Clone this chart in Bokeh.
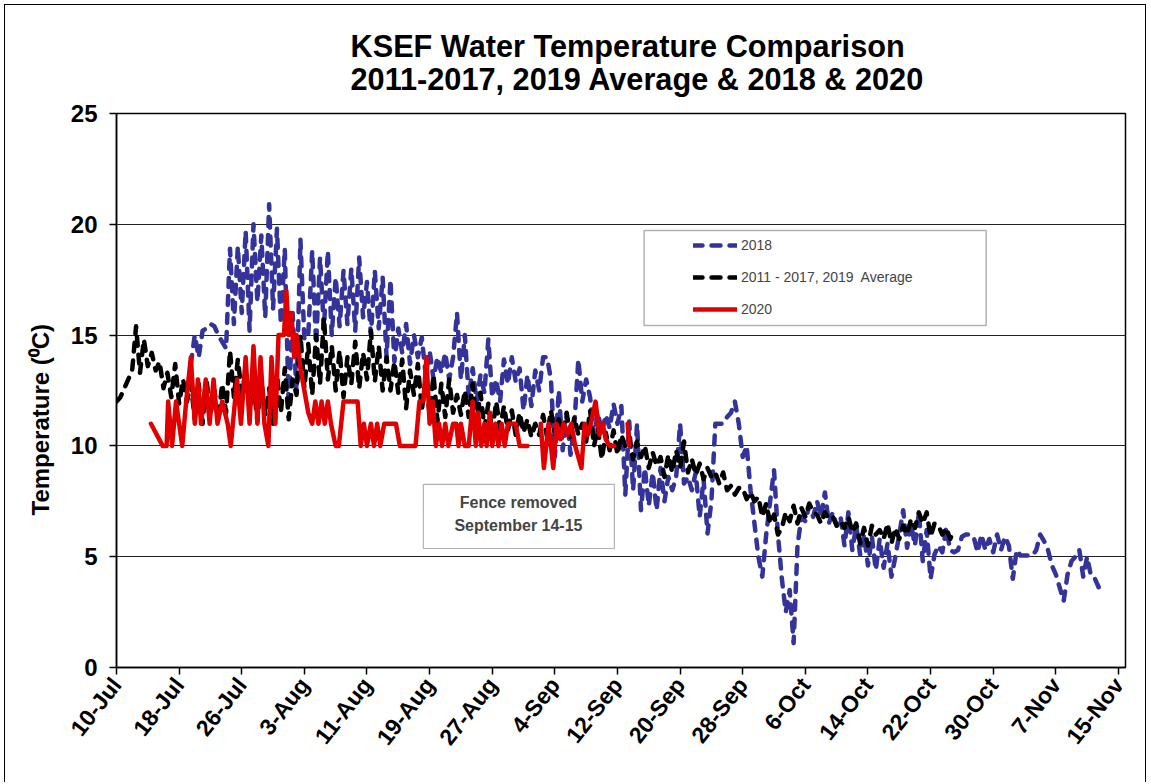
import math
import numpy as np
from bokeh.plotting import figure
from bokeh.models import (Range1d, FixedTicker, Legend, LegendItem,
                          BoxAnnotation, Label, Title)
from bokeh.embed import file_html
from bokeh.resources import INLINE

NAN = float("nan")

TITLE_1 = "KSEF Water Temperature Comparison"
TITLE_2 = "2011-2017, 2019 Average & 2018 & 2020"
Y_LABEL = "Temperature (\u2070C)"

# x axis: days since 10-Jul
tick_days = [0, 8, 16, 24, 32, 40, 48, 56, 64, 72, 80, 88, 96, 104, 112, 120, 128]
tick_labels = ["10-Jul", "18-Jul", "26-Jul", "3-Aug", "11-Aug", "19-Aug", "27-Aug",
               "4-Sep", "12-Sep", "20-Sep", "28-Sep", "6-Oct", "14-Oct", "22-Oct",
               "30-Oct", "7-Nov", "15-Nov"]
y_ticks = [0, 5, 10, 15, 20, 25]

# 2011-2017, 2019 average: readings every half day starting 10-Jul
avg_first_day = 0.0
avg_step = 0.5
temp_avg = [
    12.0, 12.2, 12.6, 13.0, 13.4, 15.4, 13.3, 14.8, 13.6, 14.2,
    13.4, 13.8, 12.6, 13.3, 12.2, 13.7, 11.9, 13.0, 12.0, 12.8,
    11.2, 12.8, 11.0, 13.0, 11.4, 12.5, 11.2, 12.8, 11.5, 14.3,
    12.2, 13.9, 12.4, 13.3, 11.6, 12.8, 11.1, 13.0, 11.4, 12.6,
    11.0, 13.2, 11.5, 13.5, 11.2, 13.0, 12.3, 15.0, 12.6, 14.6,
    12.3, 15.0, 12.8, 15.8, 13.0, 14.5, 12.5, 14.3, 12.2, 14.0,
    12.8, 14.7, 12.6, 14.2, 13.0, 15.2, 12.9, 14.5, 12.5, 14.0,
    12.5, 13.8, 12.4, 13.9, 11.7, 13.4, 12.3, 13.7, 11.6, 13.0,
    11.4, 13.2, 11.1, 12.8, 11.3, 13.0, 11.5, 12.3, 11.4, 12.5,
    11.3, 12.8, 11.0, 12.4, 10.8, 11.9, 10.6, 12.0, 10.8, 11.8,
    10.7, 11.6, 10.5, 11.5, 10.6, 11.2, 10.4, 11.0, 10.5, 11.4,
    10.4, 11.6, 10.5, 11.2, 10.6, 11.5, 10.4, 11.3, 10.5, 11.0,
    10.2, 11.6, 10.0, 10.8, 9.4, 10.6, 9.8, 10.7, 9.6, 10.5,
    10.0, 10.4, 9.4, 10.2, 9.5, 10.0, 9.0, 9.7, 9.1, 9.5,
    8.6, 9.6, 8.8, 9.8, 9.0, 10.2, 8.8, 9.4, 8.7, 9.2,
    8.5, 9.0, 8.6, 8.8, 8.3, 8.8, 8.0, 8.2, 7.8, 8.1,
    8.1, 7.6, 7.9, 7.5, 7.7, 6.8, 7.4, 6.5, 6.9, 6.0,
    6.3, 7.0, 6.6, 7.3, 6.5, 7.2, 6.8, 7.4, 7.0, 6.9,
    6.5, 7.0, 6.7, 6.8, 6.4, 6.6, 6.3, 6.8, 6.1, 6.5,
    5.6, 6.3, 5.5, 6.4, 6.0, 6.2, 5.8, 6.5, 5.6, 6.3,
    5.8, 6.4, 6.0, 6.7, 6.3, 7.0, 6.5, 7.0, 5.9, 6.5,
    6.4, 6.0, 6.3, 5.8, 6.2,
]

# 2018: readings every half day starting 19.5-Jul
y2018_first_day = 9.5
y2018_step = 0.5
temp_2018 = [
    13.7, 15.0, 14.0, 15.2, 15.3, 15.5, 15.4, 15.0, 14.7, 14.4,
    18.9, 15.5, 19.0, 16.0, 19.7, 15.2, 20.0, 16.5, 19.5, 15.8,
    20.9, 16.2, 19.8, 15.5, 18.9, 11.7, 16.0, 12.4, 19.3, 14.8,
    15.0, 18.8, 14.6, 18.5, 15.3, 18.8, 15.0, 17.6, 15.4, 17.9,
    15.5, 18.0, 15.2, 18.5, 15.8, 17.4, 15.0, 17.9, 15.3, 17.6,
    14.0, 17.5, 13.8, 15.3, 14.2, 15.5, 13.7, 15.0, 14.0, 14.9,
    13.2, 14.3, 13.0, 14.0, 13.3, 14.2, 13.0, 14.0, 16.0, 13.0,
    15.0, 12.2, 13.5, 12.0, 13.2, 12.4, 14.8, 12.2, 13.0, 12.0,
    13.9, 12.8, 14.0, 12.9, 13.5, 11.6, 13.2, 11.8, 13.4, 12.5,
    14.0, 14.0, 13.0, 9.5, 12.5, 9.8, 11.4, 9.6, 11.0, 13.9,
    12.0, 13.0, 12.2, 10.5, 11.5, 10.6, 11.4, 10.8, 11.9, 11.0,
    11.8, 7.8, 11.1, 8.0, 11.0, 7.1, 9.0, 7.3, 8.8, 7.1,
    9.0, 7.5, 8.6, 8.0, 8.6, 11.0, 8.3, 8.6, 8.0, 8.8,
    6.8, 8.5, 6.05, 7.5, 11.0, 11.0, 11.0, 11.3, 11.5, 12.0,
    11.0, 9.5, 10.0, 8.0, 6.5, 5.0, 4.1, 6.0, 7.5, 8.9,
    6.0, 4.0, 2.5, 3.5, 1.1, 5.5, 6.8, 6.6, 7.3, 6.8,
    7.5, 6.8, 7.9, 6.5, 7.0, 6.4, 6.8, 5.5, 7.0, 5.3,
    6.4, 5.1, 6.0, 4.6, 5.9, 4.4, 5.8, 4.5, 5.6, 4.1,
    5.0, 6.0, 7.1, 5.4, 6.5, 5.5, 7.0, 4.8, 6.2, 4.0,
    5.1, 5.5, 5.2, 6.3, 5.3, 5.2, 5.3, 5.9, 6.0, 6.0,
    5.9, 5.2, 6.0, 5.3, 5.8, 5.2, 6.0, 5.3, 5.9, 5.5,
    4.0, 5.3, 5.05, 5.05, 5.05, 5.05, 5.3, 6.0, 5.7, 5.3,
    4.6, 4.2, 3.6, 3.0, 4.2, 4.8, 5.0, 5.3, 4.1, 5.0,
    4.1, 4.0, 3.6, 3.3,
]

# 2020: reading days (since 10-Jul) and temperatures (NaN = no data)
days_2020 = [
    4.4, 5.9, 6.4, 6.6, 7.1, 7.6, 8.0, 8.4, 8.9, 9.5,
    10.0, 10.4, 10.8, 11.4, 11.9, 12.4, 12.9, 13.5, 14.2, 14.6,
    15.4, 15.9, 16.5, 17.0, 17.5, 18.0, 18.4, 18.9, 19.4, 19.8,
    20.3, 20.7, 21.4, 21.7, 22.0, 22.3, 22.7, 23.0, 23.5, 24.0,
    24.5, 25.0, 25.4, 25.8, 26.2, 26.6, 27.0, 27.4, 28.0, 28.4,
    29.0, 30.8, 31.2, 31.6, 32.0, 32.5, 32.9, 33.3, 33.7, 34.2,
    34.6, 35.7, 36.2, 38.2, 38.7, 39.2, 39.6, 40.0, 40.4, 40.8,
    41.2, 41.6, 42.0, 42.4, 43.0, 43.4, 43.7, 44.0, 44.5, 45.0,
    45.5, 45.9, 46.2, 46.6, 47.0, 47.3, 47.7, 48.0, 48.4, 48.8,
    49.2, 49.6, 50.0, 51.0, 51.5, 52.5, 53.3, 54.2, 54.6, 55.2,
    55.8, 56.2, 56.7, 57.1, 57.6, 58.1, 58.6, 59.4, 59.8, 60.2,
    60.6, 61.2, 61.7, 62.1, 62.5, 63.0, 63.6, 64.5, 65.3, 65.5,
]
temp_2020 = [
    11, 10, 10, 12, 10, 12, 11, 10, 12, 14,
    11, 13, 11, 13, 11, 13, 11, 12, 11, 10,
    13, 11, 14, 11, 14.5, 11, 14, 11, 10, 14,
    11, 15, 15, 17, 15, 16, 14, 15, 13.5, 12.5,
    11.5, 11, 12, 11, 12, 11, 12, 11, 10, 10,
    12, 12, 10, 11, 10, 11, 10, 11, 10, 11,
    11, 11, 10, 10, 12, 12, 14, 11, 12, 10,
    11, 10, 11, 10, 11, 11, 10, 11, 10, 10,
    12, 10, 11.5, 10, 11, 10, 11.5, 10, 11, 10,
    11, 10, 11, 11, 10, 10, NAN, 11, 9, 11,
    9, 11, 10.3, 11, 10.5, 11, 10, 9, 11, 10.5,
    11, 12, 10.5, 11, 10.3, 10, 10, NAN, 11, 10,
]

LEGEND_LABELS = ["2018", "2011 - 2017, 2019  Average", "2020"]
NOTE_LINES = ["Fence removed", "September 14-15"]

FONT = "Liberation Sans"
BLUE = "#333399"
RED = "#e00000"

days_avg = avg_first_day + avg_step * np.arange(len(temp_avg))
days_2018 = y2018_first_day + y2018_step * np.arange(len(temp_2018))

p = figure(width=1142, height=778, output_backend="svg", toolbar_location=None,
           x_range=Range1d(0, 128.9), y_range=Range1d(0, 25),
           min_border_left=111, min_border_right=22, min_border_top=108,
           min_border_bottom=116, title=TITLE_1 + "\n" + TITLE_2)
p.styles = {"margin-left": "4px", "margin-top": "4px",
            "border-left": "1px solid black", "border-top": "1px solid black",
            "border-right": "1px solid black"}
p.background_fill_color = "white"
p.border_fill_color = "white"
p.outline_line_color = "black"
p.outline_line_width = 1.5

p.title.text_font = FONT
p.title.text_font_size = "30.7px"
p.title.text_font_style = "bold"
p.title.text_color = "black"
p.title.align = "left"
p.title.offset = 234
p.title.standoff = 33
p.title.text_line_height = 0.93

# axes
p.xaxis.ticker = FixedTicker(ticks=tick_days)
p.xaxis.major_label_overrides = {d: l for d, l in zip(tick_days, tick_labels)}
p.xaxis.major_label_orientation = math.radians(52)
p.yaxis.ticker = FixedTicker(ticks=y_ticks)
for ax in (p.xaxis[0], p.yaxis[0]):
    ax.axis_line_color = "black"
    ax.axis_line_width = 1.5
    ax.major_tick_line_color = "black"
    ax.major_tick_line_width = 1.5
    ax.major_tick_out = 7
    ax.major_tick_in = 0
    ax.minor_tick_line_color = None
    ax.major_label_text_font = FONT
    ax.major_label_text_font_style = "bold"
    ax.major_label_text_color = "black"
p.xaxis.major_label_text_font_size = "23px"
p.yaxis.major_label_text_font_size = "24px"
p.xaxis.major_label_standoff = 6
p.yaxis.major_label_standoff = 12

# y axis title, placed left of the tick labels
p.add_layout(Title(text=Y_LABEL, text_font=FONT, text_font_size="24px",
                   text_font_style="bold", text_color="black",
                   align="left", offset=152, standoff=28), "left")

p.xgrid.visible = False
p.ygrid.grid_line_color = "#222222"
p.ygrid.grid_line_width = 1

# series
r18 = p.line(days_2018, temp_2018, line_color=BLUE, line_width=4.5,
             line_dash="9 9", line_cap="round", line_join="round")
ravg = p.line(days_avg, temp_avg, line_color="black", line_width=4.5,
              line_dash="9 9", line_cap="round", line_join="round")
r20 = p.line(days_2020, temp_2020, line_color=RED, line_width=4.5,
             line_join="round", line_cap="round")

# legend frame and legend
p.add_layout(BoxAnnotation(left=67.4, right=111.1, bottom=15.43, top=19.72,
                           fill_color="white", fill_alpha=1.0,
                           line_color="black", line_width=1.5))
legend = Legend(items=[LegendItem(label=LEGEND_LABELS[0], renderers=[r18]),
                       LegendItem(label=LEGEND_LABELS[1], renderers=[ravg]),
                       LegendItem(label=LEGEND_LABELS[2], renderers=[r20])],
                location=(577, 348), padding=0, spacing=12, margin=0,
                glyph_width=44, glyph_height=20, label_height=20,
                label_standoff=4, label_text_font=FONT,
                label_text_font_size="14px",
                background_fill_alpha=0, border_line_color=None)
p.add_layout(legend)

# note box
p.add_layout(BoxAnnotation(left=39.2, right=63.6, bottom=5.37, top=8.26,
                           fill_color="white", fill_alpha=1.0,
                           line_color="black", line_width=1.2))
p.add_layout(Label(x=51.35, y=7.45, text=NOTE_LINES[0], text_align="center",
                   text_baseline="middle", text_font=FONT,
                   text_font_style="bold", text_font_size="16px"))
p.add_layout(Label(x=51.35, y=6.41, text=NOTE_LINES[1], text_align="center",
                   text_baseline="middle", text_font=FONT,
                   text_font_style="bold", text_font_size="16px"))

open("out.html", "w").write(file_html(p, INLINE))
